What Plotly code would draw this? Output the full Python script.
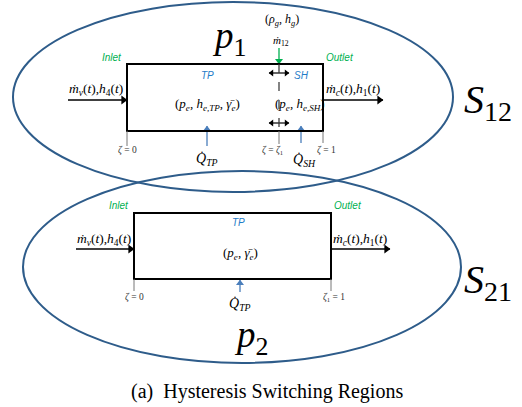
import plotly.graph_objects as go

W, H = 522, 407
SERIF = "Liberation Serif"
SANS = "Liberation Sans"
BLUE_LINE = "#2E5C8A"
GREEN = "#00B050"
TBLUE = "#1F7CC8"
QBLUE = "#4A7EBB"

# Region labels and texts
region_labels = ["<i>S</i><sub>12</sub>", "<i>S</i><sub>21</sub>"]
mode_labels = ["<i>p</i><sub>1</sub>", "<i>p</i><sub>2</sub>"]
caption = "(a)  Hysteresis Switching Regions"
inflow = "<i>ṁ<sub>v</sub></i>(<i>t</i>),<i>h</i><sub>4</sub>(<i>t</i>)"
outflow = "<i>ṁ<sub>c</sub></i>(<i>t</i>),<i>h</i><sub>1</sub>(<i>t</i>)"
state_tp1 = "(<i>p<sub>e</sub></i>, <i>h<sub>e,TP</sub></i>, <i>γ̄<sub>e</sub></i>)"
state_sh1 = "(<i>p<sub>e</sub></i>, <i>h<sub>e,SH</sub></i>)"
state_tp2 = "(<i>p<sub>e</sub></i>, <i>γ̄<sub>e</sub></i>)"
gas_state = "(<i>ρ<sub>g</sub></i>, <i>h<sub>g</sub></i>)"
m12 = "<i>ṁ</i><sub>12</sub>"
q_tp = "<i>Q̇<sub>TP</sub></i>"
q_sh = "<i>Q̇<sub>SH</sub></i>"
zeta_labels1 = ["<i>ζ</i> = 0", "<i>ζ</i> = <i>ζ</i><sub>1</sub>", "<i>ζ</i> = 1"]
zeta_labels2 = ["<i>ζ</i> = 0", "<i>ζ</i><sub>1</sub> = 1"]

fig = go.Figure()
shapes = []
ann = []

# ellipses
shapes.append(dict(type="circle", x0=13, x1=453, y0=2, y1=192,
                   line=dict(color=BLUE_LINE, width=2)))
shapes.append(dict(type="circle", x0=23, x1=461, y0=171, y1=363,
                   line=dict(color=BLUE_LINE, width=2)))

# rectangles
shapes.append(dict(type="rect", x0=127, x1=323, y0=64, y1=131,
                   line=dict(color="black", width=2)))
shapes.append(dict(type="rect", x0=134, x1=331, y0=213, y1=279,
                   line=dict(color="black", width=2)))

# dashed boundary
shapes.append(dict(type="line", x0=279, x1=279, y0=64, y1=131,
                   line=dict(color="#333333", width=1.2, dash="dash")))

# tick lines
for (x, y0, y1) in [(127, 131, 146), (279, 131, 144), (323, 131, 143),
                    (134, 279, 291), (331, 279, 291)]:
    shapes.append(dict(type="line", x0=x, x1=x, y0=y0, y1=y1,
                       line=dict(color="#777777", width=1)))

SYM = {(1, 0): "triangle-right", (-1, 0): "triangle-left",
       (0, 1): "triangle-down", (0, -1): "triangle-up"}


def arrow(x0, y0, x1, y1, color="black", width=1.5, size=8, both=False):
    dx = (x1 > x0) - (x1 < x0)
    dy = (y1 > y0) - (y1 < y0)
    off = size * 0.45
    fig.add_trace(go.Scatter(x=[x0, x1], y=[y0, y1], mode="lines",
                             line=dict(color=color, width=width),
                             hoverinfo="skip"))
    mx = [x1 - dx * off]
    my = [y1 - dy * off]
    sy = [SYM[(dx, dy)]]
    if both:
        mx.append(x0 + dx * off)
        my.append(y0 + dy * off)
        sy.append(SYM[(-dx, -dy)])
    fig.add_trace(go.Scatter(x=mx, y=my, mode="markers",
                             marker=dict(symbol=sy, size=size, color=color,
                                         line=dict(width=0)),
                             hoverinfo="skip"))


def text(x, y, s, size=12, color="black", family=SERIF, xanchor="center"):
    ann.append(dict(x=x, y=y, text=s, showarrow=False, xref="x", yref="y",
                    xanchor=xanchor, yanchor="middle",
                    font=dict(family=family, size=size, color=color)))


# arrows top diagram
arrow(68, 100, 127, 100)
arrow(323, 100, 383, 100)
arrow(279, 48, 279, 64, color=GREEN, width=1.3, size=7)
arrow(269, 73, 289, 73, width=1.2, size=6, both=True)
arrow(269, 123, 289, 123, width=1.2, size=6, both=True)
arrow(207, 146, 207, 126, color=QBLUE, width=1.3, size=7)
arrow(301, 143, 301, 126, color=QBLUE, width=1.3, size=7)

# arrows bottom diagram
arrow(76, 249, 134, 249)
arrow(331, 249, 390, 249)
arrow(240, 292, 240, 280, color=QBLUE, width=1.3, size=7)

# texts top
text(229, 38, mode_labels[0], size=37)
text(112, 57, "<i>Inlet</i>", size=10, color=GREEN, family=SANS)
text(340, 57, "<i>Outlet</i>", size=10, color=GREEN, family=SANS)
text(207, 75, "<i>TP</i>", size=10, color=TBLUE, family=SANS)
text(301, 75, "<i>SH</i>", size=10, color=TBLUE, family=SANS)
text(282, 20, gas_state, size=12)
text(281, 41, m12, size=11)
text(96, 89, inflow, size=13.5)
text(353, 89, outflow, size=13.5)
text(207, 104, state_tp1, size=13)
text(300, 104, state_sh1, size=13)
text(127, 150, zeta_labels1[0], size=9.5, color="#333333")
text(272, 150, zeta_labels1[1], size=9.5, color="#333333")
text(326, 150, zeta_labels1[2], size=9.5, color="#333333")
text(207, 159, q_tp, size=14)
text(304, 160, q_sh, size=14)
text(488, 102, region_labels[0], size=40)

# texts bottom
text(119, 205, "<i>Inlet</i>", size=10, color=GREEN, family=SANS)
text(348, 205, "<i>Outlet</i>", size=10, color=GREEN, family=SANS)
text(238, 222, "<i>TP</i>", size=10, color=TBLUE, family=SANS)
text(104, 239, inflow, size=13.5)
text(360, 239, outflow, size=13.5)
text(240, 253, state_tp2, size=13)
text(134, 297, zeta_labels2[0], size=9.5, color="#333333")
text(334, 297, zeta_labels2[1], size=9.5, color="#333333")
text(240, 304, q_tp, size=14)
text(251, 337, mode_labels[1], size=37)
text(488, 282, region_labels[1], size=40)

# caption
text(267, 391, caption, size=20)

fig.update_layout(
    width=W, height=H,
    margin=dict(l=0, r=0, t=0, b=0),
    paper_bgcolor="white", plot_bgcolor="white",
    xaxis=dict(range=[0, W], visible=False, fixedrange=True),
    yaxis=dict(range=[H, 0], visible=False, fixedrange=True),
    shapes=shapes, annotations=ann, showlegend=False,
)
fig.write_html("out.html", config={"displayModeBar": False},
               post_script="document.body.style.margin='0px';document.body.style.overflow='hidden';")
